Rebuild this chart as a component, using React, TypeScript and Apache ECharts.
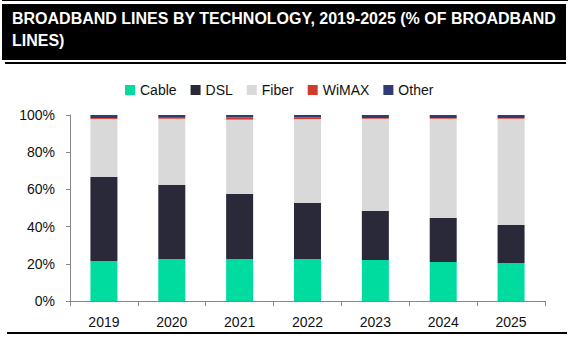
import React, { useEffect, useRef } from "react";
import * as echarts from "echarts";

const years = ["2019", "2020", "2021", "2022", "2023", "2024", "2025"];
const cable = [21.5, 22.6, 22.6, 22.6, 22.0, 21.0, 20.4];
const dsl = [45.2, 39.8, 34.9, 30.1, 26.4, 23.6, 20.5];
const fiber = [31.2, 35.6, 40.0, 45.1, 49.6, 53.4, 57.1];
const wimax = [0.5, 0.5, 1.2, 1.0, 0.4, 0.4, 0.4];
const other = [1.6, 1.5, 1.3, 1.2, 1.6, 1.6, 1.6];

const titleText = "BROADBAND LINES BY TECHNOLOGY, 2019-2025 (% OF BROADBAND\nLINES)";
const FONT = "'Liberation Sans', Arial, sans-serif";

export default function App() {
  const ref = useRef<HTMLDivElement>(null);
  useEffect(() => {
    if (!ref.current) return;
    const chart = echarts.init(ref.current, undefined, { renderer: "svg" });
    const mk = (name: string, data: number[], color: string) => ({
      name,
      type: "bar",
      stack: "total",
      data,
      barWidth: 27,
      itemStyle: { color },
    });
    chart.setOption({
      animation: false,
      backgroundColor: "#ffffff",
      textStyle: { fontFamily: FONT },
      graphic: [
        { type: "rect", shape: { x: 2, y: 0, width: 566, height: 1 }, style: { fill: "#000" } },
        { type: "rect", shape: { x: 2, y: 4, width: 564, height: 56 }, style: { fill: "#000" } },
        {
          type: "text",
          x: 12,
          y: 7,
          style: {
            text: titleText,
            fill: "#ffffff",
            font: "bold 16px 'Liberation Sans Narrow', 'Liberation Sans', sans-serif",
            lineHeight: 22,
          },
        },
        { type: "rect", shape: { x: 5, y: 62, width: 561, height: 2 }, style: { fill: "#000" } },
        { type: "rect", shape: { x: 7, y: 332, width: 560, height: 2 }, style: { fill: "#000" } },
      ],
      legend: {
        left: 120,
        top: 78,
        itemWidth: 10,
        itemHeight: 10,
        itemGap: 14,
        icon: "rect",
        textStyle: { fontFamily: FONT, fontSize: 14, color: "#111" },
        data: ["Cable", "DSL", "Fiber", "WiMAX", "Other"],
      },
      grid: { left: 70, right: 29, top: 115, bottom: 51 },
      xAxis: {
        type: "category",
        data: years,
        axisLine: { lineStyle: { color: "#868686" } },
        axisTick: { show: true, length: 5, lineStyle: { color: "#868686" } },
        axisLabel: { fontFamily: FONT, fontSize: 14, color: "#111", margin: 14 },
      },
      yAxis: {
        type: "value",
        min: 0,
        max: 100,
        interval: 20,
        axisLine: { show: true, lineStyle: { color: "#868686" } },
        axisTick: { show: true, length: 4, lineStyle: { color: "#868686" } },
        splitLine: { show: false },
        axisLabel: { fontFamily: FONT, fontSize: 14, color: "#111", formatter: "{value}%", margin: 15 },
      },
      series: [
        mk("Cable", cable, "#00DBA0"),
        mk("DSL", dsl, "#2A2939"),
        mk("Fiber", fiber, "#D9D9D9"),
        mk("WiMAX", wimax, "#D13B2C"),
        mk("Other", other, "#303A73"),
      ],
    });
    return () => chart.dispose();
  }, []);
  return <div ref={ref} style={{ width: 574, height: 352, position: "absolute", left: 0, top: 0 }} />;
}
